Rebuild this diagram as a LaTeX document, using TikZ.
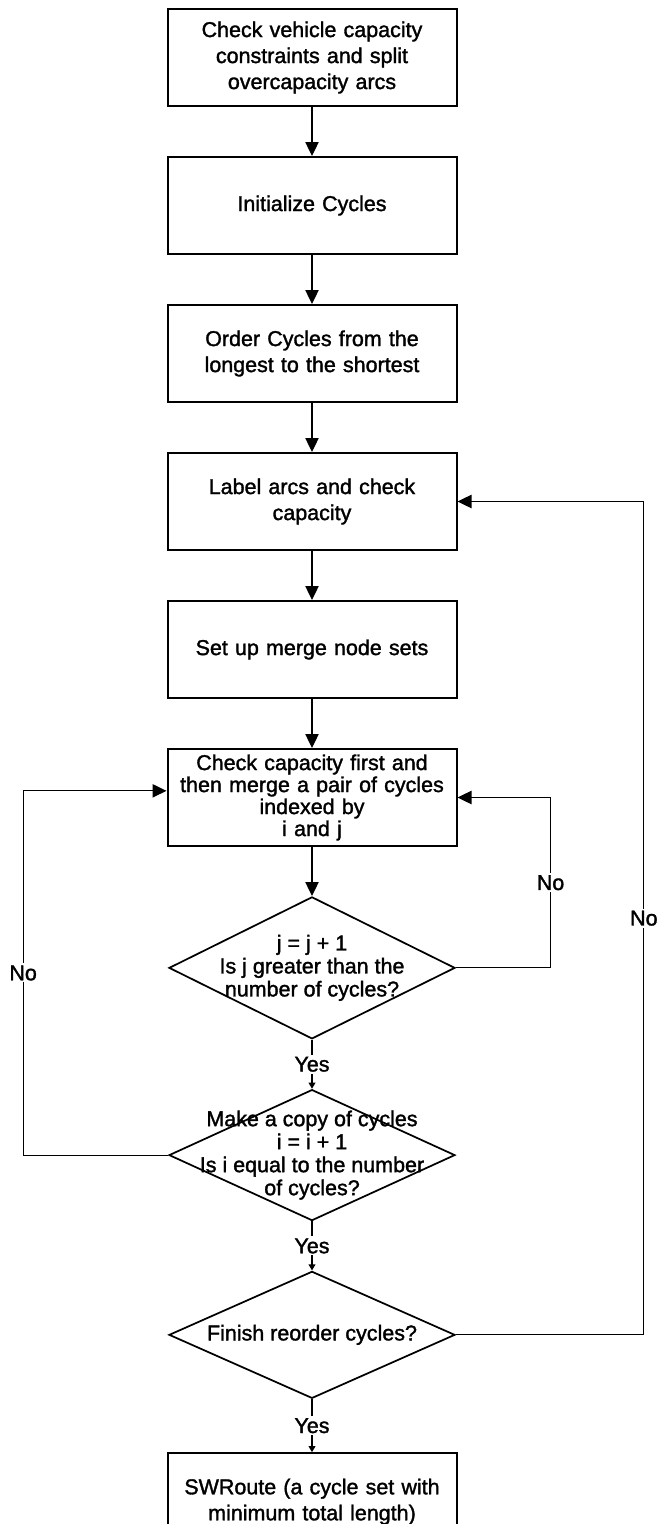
\documentclass[tikz,border=0pt]{standalone}
\usepackage{fontspec}
\setmainfont{Liberation Sans}[UprightFeatures={FakeBold=1.5}]
\usetikzlibrary{arrows.meta,positioning,shapes.geometric}

\newcommand{\flowfont}{\fontsize{16.1pt}{19.5pt}\selectfont}
\newcommand{\askfont}{\fontsize{16.1pt}{17.25pt}\selectfont}
\newcommand{\tightfont}{\fontsize{16.1pt}{16.5pt}\selectfont}

\begin{document}
\begin{tikzpicture}[node distance=36.75pt,
    stepbox/.style={draw,line width=1.5pt,minimum width=216.75pt,minimum height=72.75pt,
      text width=210pt,align=center,inner sep=0pt,font=\flowfont},
    decision/.style={diamond,draw,line width=1.3pt,inner sep=0pt,minimum width=214.5pt},
    asktext/.style={align=center,font=\askfont,inner sep=0pt},
    flow/.style={line width=0.9pt,-{Triangle[length=10.5pt,width=10pt]}},
    yesflow/.style={line width=0.9pt,-{Triangle[length=4.5pt,width=5pt]}},
    answer/.style={fill=white,inner sep=1.5pt,font=\flowfont}]
  \path[use as bounding box,fill=white] (0,0) rectangle (495pt,-1143pt);
  \clip (0,0) rectangle (495pt,-1143pt);

  % main column
  \node[stepbox] (split) at (234pt,-43.125pt)
    {Check vehicle capacity\\constraints and split\\overcapacity arcs};
  \node[stepbox,below=of split] (init) {Initialize Cycles};
  \node[stepbox,below=of init] (order) {Order Cycles from the\\longest to the shortest};
  \node[stepbox,below=of order] (labelarcs) {Label arcs and check\\capacity};
  \node[stepbox,below=of labelarcs] (mergesets) {Set up merge node sets};
  \node[stepbox,below=of mergesets,font=\tightfont] (merge)
    {Check capacity first and\\then merge a pair of cycles\\indexed by\\i and j};
  \node[decision,below=of merge,minimum height=106.5pt,
    label={[asktext]center:{j = j + 1\\Is j greater than the\\number of cycles?}}] (jtest) {};
  \node[decision,below=of jtest,minimum height=98.25pt,
    label={[asktext]center:{Make a copy of cycles\\i = i + 1\\Is i equal to the number\\of cycles?}}] (itest) {};
  \node[decision,below=of itest,minimum height=95.25pt,
    label={[asktext]center:{Finish reorder cycles?}}] (reorder) {};
  \node[stepbox,below=39.75pt of reorder] (swroute)
    {SWRoute (a cycle set with\\minimum total length)};

  % straight steps
  \draw[flow] (split) -- (init);
  \draw[flow] (init) -- (order);
  \draw[flow] (order) -- (labelarcs);
  \draw[flow] (labelarcs) -- (mergesets);
  \draw[flow] (mergesets) -- (merge);
  \draw[flow] (merge) -- (jtest);
  \draw[yesflow] (jtest) -- node[answer] {Yes} (itest);
  \draw[yesflow] (itest) -- node[answer] {Yes} (reorder);
  \draw[yesflow] (reorder) -- node[answer] {Yes} (swroute);

  % loops back
  \draw[flow] (jtest.east) -- ++(71pt,0) |- node[answer,pos=0.25] {No} (merge.east);
  \draw[flow] (itest.west) -- ++(-108.75pt,0) |- node[answer,pos=0.25] {No}
    ([yshift=5pt]merge.west);
  \draw[flow] (reorder.east) -- ++(141pt,0) |- node[answer,pos=0.25] {No} (labelarcs.east);
\end{tikzpicture}
\end{document}
